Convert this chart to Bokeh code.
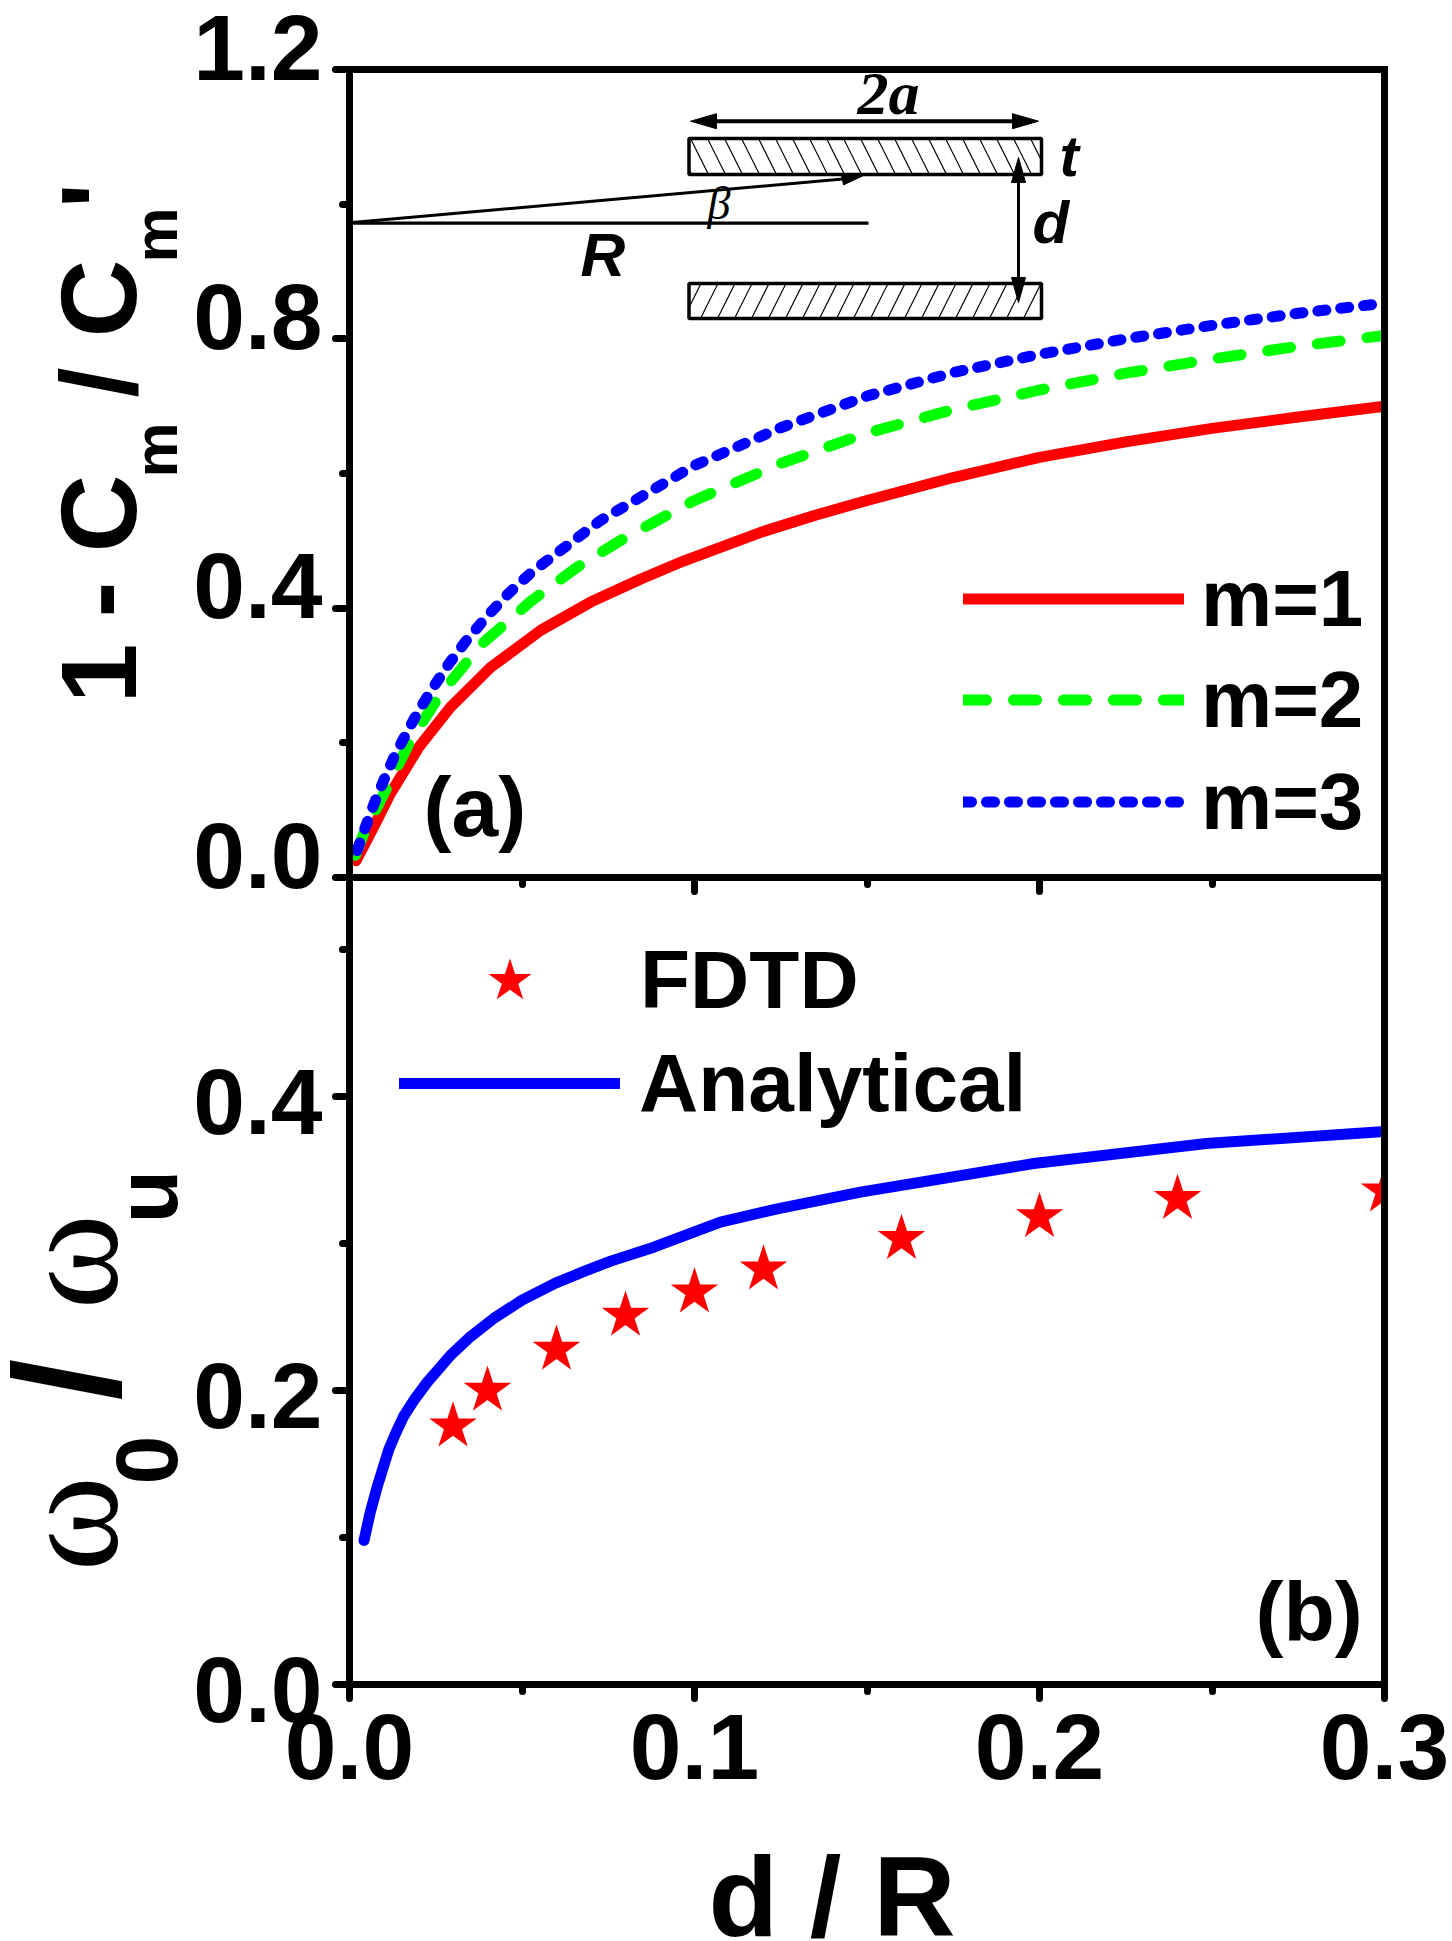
from bokeh.plotting import figure
from bokeh.layouts import column
from bokeh.models import Range1d, LinearAxis, FixedTicker, Label, Legend, LegendItem
from bokeh.embed import file_html
from bokeh.resources import INLINE

# ---- data, panel (a)
x_m1 = [.0019,.0070,.0119,.0201,.0293,.0409,.0554,.0699,.0843,.0968,.12,.135,.15,.175,.2,.225,.25,.275,.3]
y_m1 = [.025,.075,.125,.1936,.253,.312,.367,.409,.443,.470,.514,.538,.56,.594,.624,.647,.667,.684,.700]
x_m2 = [.0017,.0041,.0100,.0177,.0264,.0385,.0525,.066,.08,.1,.125,.15,.175,.2,.225,.25,.275,.3]
y_m2 = [.033,.065,.1246,.2035,.273,.3474,.41,.461,.505,.56,.615,.66,.695,.724,.749,.77,.789,.805]
x_m3 = [.0022,.0046,.0071,.0099,.0129,.0164,.0201,.0243,.0288,.0339,.0396,.0460,.0528,.0727,.1,.125,.15,.175,.2,.225,.25,.275,.3]
y_m3 = [.040,.0747,.1094,.144,.1787,.2134,.248,.2827,.3174,.352,.3866,.4214,.4535,.53,.612,.668,.715,.75,.777,.80,.82,.838,.853]

# ---- data, panel (b)
x_an = [.0042,.006,.0080,.0114,.0135,.0157,.019,.0225,.0293,.035,.0418,.05,.0597,.068,.0757,.0882,.1075,.124,.1481,.1983,.2484,.3]
y_an = [.098,.117,.1342,.160,.1715,.1825,.1945,.2055,.2240,.2365,.2490,.2615,.2730,.2810,.2880,.2975,.3145,.3236,.3349,.3544,.368,.3762]
x_fdtd = [.03,.04,.06,.08,.1,.12,.16,.2,.24,.3]
y_fdtd = [.1757,.2,.2279,.251,.2669,.2825,.3032,.3181,.3304,.3356]

# ---- ticks
x_major = [0, .1, .2, .3]
x_minor = [.05, .15, .25]
x_labels = {0: "0.0", .1: "0.1", .2: "0.2", .3: "0.3"}
ya_major = [0, .4, .8, 1.2]
ya_minor = [.2, .6, 1.0]
ya_labels = ["0.0", "0.4", "0.8", "1.2"]
yb_major = [0, .2, .4]
yb_minor = [.1, .3, .5]
yb_labels = ["0.0", "0.2", "0.4"]

SANS = "Liberation Sans"
SERIF = "Liberation Serif"
W, H = 1452, 1941
X0, XS = 349, 3450
A0, AS = 877, 673.33
B0, BS = 1684, 1470
K = 0.38   # distance of the label anchor above the baseline, in em


def xp(px):
    return (px - X0) / XS


def ya(py):
    return (A0 - py) / AS


def style(p):
    p.grid.visible = False
    p.outline_line_color = None
    p.background_fill_color = None
    p.border_fill_color = None


def ax_style(axis):
    axis.axis_line_width = 7
    axis.axis_line_cap = "square"
    axis.major_tick_line_width = 7
    axis.minor_tick_line_width = 7
    axis.major_tick_line_cap = "round"
    axis.minor_tick_line_cap = "round"
    axis.major_tick_in = 0
    axis.minor_tick_in = 0
    axis.major_tick_out = 14
    axis.minor_tick_out = 7
    axis.axis_line_color = "black"
    axis.major_tick_line_color = "black"
    axis.minor_tick_line_color = "black"


def blank_ticks(axis, ticks):
    axis.major_label_overrides = {t: "" for t in ticks}
    axis.major_label_standoff = 0
    axis.major_label_text_font_size = "1px"


def bare_axis(p, side):
    a = LinearAxis(ticker=FixedTicker(ticks=[]))
    ax_style(a)
    a.major_tick_out = 0
    a.minor_tick_out = 0
    a.major_label_text_font_size = "1px"
    p.add_layout(a, side)


# full-page transparent layer: its frame is the whole page, so nothing on it is clipped
top = figure(width=W, height=H, x_range=Range1d(0, W), y_range=Range1d(0, H),
             x_axis_type=None, y_axis_type=None, output_backend="svg", toolbar_location=None,
             min_border=0, margin=(-H, 0, 0, 0), frame_align=False)
style(top)


def text(s, px, py, size, font=SANS, font_style="bold", angle=0, align="left"):
    # px: x of the text origin, py: y of its baseline, both in picture pixels
    if angle:
        px -= K * size
    else:
        py -= K * size
    top.add_layout(Label(x=px, y=H - py, text=s, text_font=font, text_font_style=font_style,
                         text_font_size=f"{size}px", text_color="black",
                         text_baseline="alphabetic", text_align=align,
                         angle=angle, angle_units="deg"))


def head(p, tipx, tipy, dx, dy, half):
    n = (dx * dx + dy * dy) ** .5
    ox, oy = -dy / n * half, dx / n * half
    xs = [tipx, tipx + dx + ox, tipx + dx - ox]
    ys = [tipy, tipy + dy + oy, tipy + dy - oy]
    p.patch([xp(v) for v in xs], [ya(v) for v in ys], color="black", line_width=1)


def key_legend(p, label, renderer, x, y, gh, size, standoff):
    leg = Legend(items=[LegendItem(label=label, renderers=[renderer])],
                 location=(x, y), orientation="vertical", glyph_width=221, glyph_height=gh,
                 spacing=0, padding=0, margin=0, label_standoff=standoff, border_line_color=None,
                 background_fill_alpha=0, label_text_font=SANS, label_text_font_style="bold",
                 label_text_font_size=f"{size}px", label_text_color="black")
    p.add_layout(leg)


# ============ panel (a)
pa = figure(width=W, height=900, x_range=Range1d(0, .3), y_range=Range1d(0, 1.2),
            output_backend="svg", toolbar_location=None,
            min_border_left=349, min_border_right=W - 1384, min_border_top=69, min_border_bottom=23)
style(pa)
ax = pa.xaxis[0]
ax.ticker = FixedTicker(ticks=x_major, minor_ticks=x_minor)
ax_style(ax)
blank_ticks(ax, x_major)
ay = pa.yaxis[0]
ay.ticker = FixedTicker(ticks=ya_major, minor_ticks=ya_minor)
ax_style(ay)
blank_ticks(ay, ya_major)
bare_axis(pa, "above")
bare_axis(pa, "right")

# inset sketch
for y0, y1, pat in [(174, 138, "left_diagonal_line"), (318, 283, "right_diagonal_line")]:
    pa.quad(left=[xp(688.5)], right=[xp(1041)], bottom=[ya(y0)], top=[ya(y1)],
            fill_color="white", line_color="black", line_width=3.5,
            hatch_pattern=pat, hatch_color="black", hatch_weight=1.2, hatch_scale=34)
pa.line([xp(698), xp(1030)], [ya(120.7)] * 2, color="black", line_width=4)
head(pa, 690, 120.7, 26, 0, 7.5)
head(pa, 1038, 120.7, -26, 0, 7.5)
pa.line([xp(1018)] * 2, [ya(175), ya(285)], color="black", line_width=3)
head(pa, 1018, 157, 0, 25, 7)
head(pa, 1018, 302, 0, -25, 7)
pa.line([xp(349), xp(848)], [ya(222.3), ya(178)], color="black", line_width=3)
head(pa, 862, 175.5, -20, 4, 5)
pa.line([xp(349), xp(868)], [ya(222.7)] * 2, color="black", line_width=3.3)
text("2a", 857, 116, 62, font=SERIF, font_style="bold italic")
text("t", 1059, 177, 58, font_style="bold italic")
text("d", 1032, 245, 60, font_style="bold italic")
text("R", 580, 278, 62, font_style="bold italic")
text("\u03b2", 707, 220, 46, font=SERIF, font_style="italic")

r1 = pa.line(x_m1, y_m1, color="#ff0000", line_width=11, line_cap="round", line_join="round")
r2 = pa.line(x_m2, y_m2, color="#00ff00", line_width=11, line_cap="round", line_join="round", line_dash="23 27")
r3 = pa.line(x_m3, y_m3, color="#0000ff", line_width=11, line_cap="round", line_join="round", line_dash="8 15")
key_legend(pa, "m=1", r1, 614, A0 - 649, 101, 80, 17)
key_legend(pa, "m=2", r2, 614, A0 - 750, 101, 80, 17)
key_legend(pa, "m=3", r3, 614, A0 - 852, 101, 80, 17)

for t, s in zip(ya_major, ya_labels):
    text(s, 322, A0 - t * AS + 13.5, 93, align="right")
text("(a)", 423, 838, 84)

# y label of (a), built from pieces
for s, by, bx, size in [("1", 703, 139.5, 108), ("-", 617, 139.5, 108), ("C", 552, 139.5, 108),
                        ("m", 477, 179, 62), ("/", 397, 139.5, 108), ("C", 337, 139.5, 108),
                        ("m", 262, 179, 62), ("'", 208, 139.5, 108)]:
    text(s, bx, by, size, angle=90)

# ============ panel (b)
Hb = H - A0
pb = figure(width=W, height=Hb, x_range=Range1d(0, .3), y_range=Range1d(0, (B0 - A0) / BS),
            output_backend="svg", toolbar_location=None, margin=(-23, 0, 0, 0),
            min_border_left=349, min_border_right=W - 1384, min_border_top=0,
            min_border_bottom=Hb - (B0 - A0))
style(pb)
bx = pb.xaxis[0]
bx.ticker = FixedTicker(ticks=x_major, minor_ticks=x_minor)
ax_style(bx)
bx.major_label_overrides = x_labels
bx.major_label_text_font = SANS
bx.major_label_text_font_style = "bold"
bx.major_label_text_font_size = "93px"
bx.major_label_text_color = "black"
bx.major_label_standoff = 16
by_ = pb.yaxis[0]
by_.ticker = FixedTicker(ticks=yb_major, minor_ticks=yb_minor)
ax_style(by_)
blank_ticks(by_, yb_major)
bare_axis(pb, "right")

l1 = pb.line(x_an, y_an, color="#0000ff", line_width=11, line_cap="round", line_join="round")
s1 = pb.scatter(x_fdtd, y_fdtd, marker="star", size=50, color="#ff0000", line_width=0)
key_legend(pb, "FDTD", s1, 50, B0 - 1036.5, 113, 82, 20)
key_legend(pb, "Analytical", l1, 50, B0 - 1133.7, 102, 82, 19)

for t, s in zip(yb_major, yb_labels):
    text(s, 322, B0 - t * BS + 40.5, 93, align="right")
text("(b)", 1255, 1643.7, 84)
text("d / R", 708, 1939, 114)

text("\u03c9", 123, 1309, 145, font=SERIF, font_style="normal", angle=90)
text("u", 179, 1223, 88, angle=90)
text("/", 123, 1400, 150, angle=90)
text("\u03c9", 123, 1571, 145, font=SERIF, font_style="normal", angle=90)
text("0", 179, 1484, 88, angle=90)

layout = column(pa, pb, top, spacing=0)
open("out.html", "w").write(file_html(layout, INLINE))
